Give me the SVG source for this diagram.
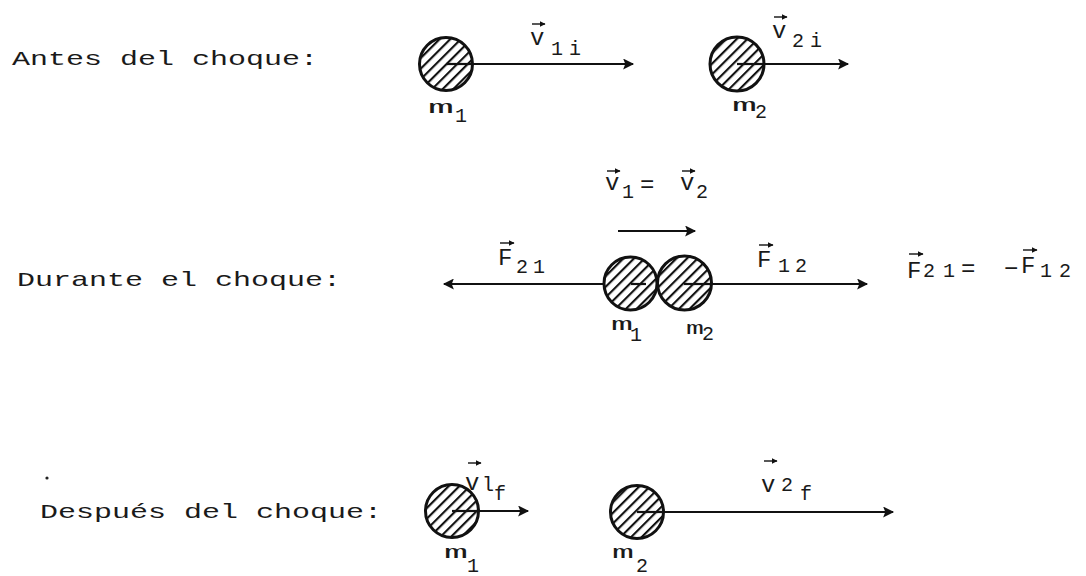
<svg xmlns="http://www.w3.org/2000/svg" width="1086" height="576" viewBox="0 0 1086 576">
<defs>
<style>
.t{font-family:"Liberation Mono","DejaVu Sans Mono",monospace;fill:#1a1a1a}
.lab{font-size:21px}
.v{font-size:24px}
.mm{font-size:18px}
.s{font-size:20px}
.ln{stroke:#111;stroke-width:2.2;fill:none}
.va{stroke:#111;stroke-width:1.4;fill:none}
.ball{fill:url(#hatch);stroke:#111;stroke-width:3}
</style>
<pattern id="hatch" patternUnits="userSpaceOnUse" width="7.5" height="7.5" patternTransform="rotate(45)">
<rect width="7.5" height="7.5" fill="#fff"/>
<line x1="1" y1="0" x2="1" y2="7.5" stroke="#111" stroke-width="2.3"/>
</pattern>
<marker id="ah" viewBox="0 0 10 10" refX="9" refY="5" markerWidth="13" markerHeight="11" markerUnits="userSpaceOnUse" orient="auto">
<path d="M0,0 L10,5 L0,10 L2,5 Z" fill="#111"/>
</marker>
<marker id="sa" viewBox="0 0 10 10" refX="9" refY="5" markerWidth="6" markerHeight="6" markerUnits="userSpaceOnUse" orient="auto">
<path d="M0,0 L10,5 L0,10 Z" fill="#111"/>
</marker>
</defs>
<rect width="1086" height="576" fill="#fff"/>

<g id="titles">
<text class="t lab" x="12" y="65" textLength="306" lengthAdjust="spacingAndGlyphs">Antes del choque:</text>
<text class="t lab" x="17" y="286" textLength="324" lengthAdjust="spacingAndGlyphs">Durante el choque:</text>
<text class="t lab" x="40" y="518" textLength="342" lengthAdjust="spacingAndGlyphs">Después del choque:</text>
<circle cx="47" cy="478" r="1.6" fill="#222"/>
</g>

<g id="connectors">
<line class="ln" x1="446" y1="64" x2="633" y2="64" marker-end="url(#ah)"/>
<line class="ln" x1="737" y1="64" x2="848" y2="64" marker-end="url(#ah)"/>
<line class="ln" x1="618" y1="231" x2="695" y2="231" marker-end="url(#ah)"/>
<line class="ln" x1="631" y1="284" x2="444" y2="284" marker-end="url(#ah)"/>
<line class="ln" x1="684" y1="284" x2="867" y2="284" marker-end="url(#ah)"/>
<line class="ln" x1="452" y1="511" x2="528" y2="511" marker-end="url(#ah)"/>
<line class="ln" x1="637" y1="512" x2="893" y2="512" marker-end="url(#ah)"/>
</g>

<g id="m1-antes">
<circle class="ball" cx="446" cy="64" r="26.5"/>
<line class="ln" x1="446" y1="64" x2="472" y2="64"/>
<text class="t mm" x="428" y="113"><tspan textLength="26" lengthAdjust="spacingAndGlyphs">m</tspan><tspan class="s" x="455" y="122">1</tspan></text>
</g>
<g id="m2-antes">
<circle class="ball" cx="737" cy="64" r="27"/>
<line class="ln" x1="737" y1="64" x2="763" y2="64"/>
<text class="t mm" x="732" y="111"><tspan textLength="25" lengthAdjust="spacingAndGlyphs">m</tspan><tspan class="s" x="755" y="118">2</tspan></text>
</g>
<g id="v1i">
<text class="t v" x="530" y="45">v<tspan class="s" x="551" y="55">1</tspan><tspan class="s" x="569" y="55">i</tspan></text>
<line class="va" x1="532" y1="24" x2="545" y2="24" marker-end="url(#sa)"/>
</g>
<g id="v2i">
<text class="t v" x="772" y="38">v<tspan class="s" x="792" y="47">2</tspan><tspan class="s" x="810" y="47">i</tspan></text>
<line class="va" x1="774" y1="17" x2="787" y2="17" marker-end="url(#sa)"/>
</g>

<g id="m1-durante">
<circle class="ball" cx="630.5" cy="283.5" r="26.5"/>
<line class="ln" x1="631" y1="284" x2="646" y2="284"/>
<text class="t mm" x="611" y="330"><tspan textLength="22" lengthAdjust="spacingAndGlyphs">m</tspan><tspan class="s" x="630" y="341">1</tspan></text>
</g>
<g id="m2-durante">
<circle class="ball" cx="684.5" cy="283" r="27"/>
<line class="ln" x1="684" y1="284" x2="711" y2="284"/>
<text class="t mm" x="686" y="334"><tspan textLength="18" lengthAdjust="spacingAndGlyphs">m</tspan><tspan class="s" x="702" y="340">2</tspan></text>
</g>
<g id="v1v2">
<text class="t v" x="605" y="190">v<tspan class="s" x="622" y="198">1</tspan><tspan x="640" y="192">=</tspan><tspan x="680" y="190">v</tspan><tspan class="s" x="696" y="198">2</tspan></text>
<line class="va" x1="607" y1="171" x2="620" y2="171" marker-end="url(#sa)"/>
<line class="va" x1="682" y1="171" x2="695" y2="171" marker-end="url(#sa)"/>
</g>
<g id="F21">
<text class="t v" x="498" y="265">F<tspan class="s" x="516" y="273">2</tspan><tspan class="s" x="533" y="273">1</tspan></text>
<line class="va" x1="500" y1="243" x2="514" y2="243" marker-end="url(#sa)"/>
</g>
<g id="F12">
<text class="t v" x="757" y="267">F<tspan class="s" x="778" y="272">1</tspan><tspan class="s" x="795" y="272">2</tspan></text>
<line class="va" x1="759" y1="245" x2="773" y2="245" marker-end="url(#sa)"/>
</g>
<g id="eq">
<text class="t v" x="907" y="278">F<tspan class="s" x="923" y="277">2</tspan><tspan class="s" x="943" y="277">1</tspan><tspan x="961" y="276">=</tspan><tspan x="1004" y="276">−</tspan><tspan x="1021" y="273">F</tspan><tspan class="s" x="1040" y="277">1</tspan><tspan class="s" x="1059" y="277">2</tspan></text>
<line class="va" x1="909" y1="254" x2="923" y2="254" marker-end="url(#sa)"/>
<line class="va" x1="1023" y1="250" x2="1037" y2="250" marker-end="url(#sa)"/>
</g>

<g id="m1-despues">
<circle class="ball" cx="452" cy="511" r="26.5"/>
<line class="ln" x1="452" y1="511" x2="478" y2="511"/>
<text class="t mm" x="444" y="558"><tspan textLength="24" lengthAdjust="spacingAndGlyphs">m</tspan><tspan class="s" x="467" y="572">1</tspan></text>
</g>
<g id="m2-despues">
<circle class="ball" cx="637" cy="512" r="26.5"/>
<line class="ln" x1="637" y1="512" x2="663" y2="512"/>
<text class="t mm" x="612" y="558"><tspan textLength="22" lengthAdjust="spacingAndGlyphs">m</tspan><tspan class="s" x="636" y="572">2</tspan></text>
</g>
<g id="v1f">
<text class="t v" x="465" y="490">v<tspan class="s" x="482" y="491">l</tspan><tspan class="s" x="494" y="500">f</tspan></text>
<line class="va" x1="468" y1="463" x2="481" y2="463" marker-end="url(#sa)"/>
</g>
<g id="v2f">
<text class="t v" x="761" y="492">v<tspan class="s" x="781" y="491">2</tspan><tspan class="s" x="800" y="500">f</tspan></text>
<line class="va" x1="764" y1="461" x2="777" y2="461" marker-end="url(#sa)"/>
</g>
</svg>
